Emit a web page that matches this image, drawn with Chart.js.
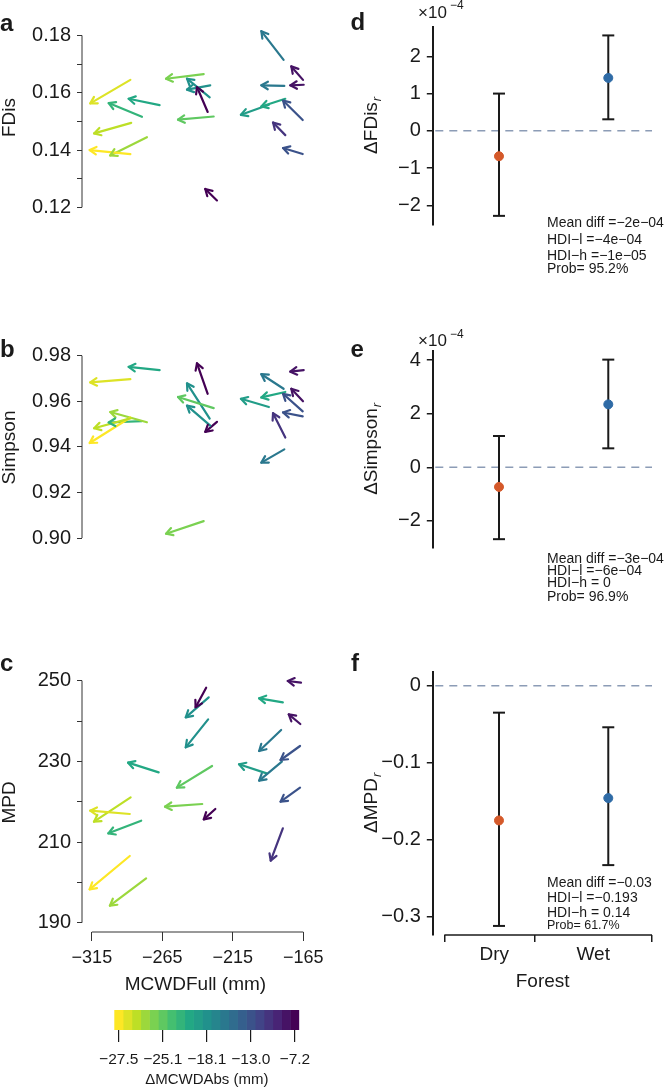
<!DOCTYPE html>
<html><head><meta charset="utf-8">
<script src="https://cdn.jsdelivr.net/npm/chart.js@4.4.1/dist/chart.umd.min.js"></script>
<style>
html,body{margin:0;padding:0;background:#fff}
body{width:666px;height:1090px;position:relative;overflow:hidden;font-family:"Liberation Sans",Arial,Helvetica,sans-serif;color:#1a1a1a}
canvas{position:absolute;display:block}
.txt{position:absolute;white-space:nowrap;line-height:1;color:#1a1a1a}
</style></head><body>
<canvas id="cA" width="330" height="278" style="left:0;top:0"></canvas>
<canvas id="cB" width="330" height="298" style="left:0;top:320px"></canvas>
<canvas id="cC" width="330" height="360" style="left:0;top:640px"></canvas>
<canvas id="cD" width="336" height="290" style="left:330px;top:0"></canvas>
<canvas id="cE" width="336" height="293" style="left:330px;top:320px"></canvas>
<canvas id="cF" width="336" height="360" style="left:330px;top:640px"></canvas>
<canvas id="cBar" width="330" height="90" style="left:0;top:1000px"></canvas>
<script>
// ---------------- data ----------------
// site order: S1..S16, S17a, S17b, S18, S19, S20
const mcwdFullStart = [-288.1,-287.5,-288.1,-276.5,-280.0,-267.6,-236.7,-229.7,-232.5,-232.1,-233.9,-227.4,-180.7,-167.1,-166.6,-180.2,-179.5,-191.0,-167.3,-179.5,-167.3];
const mcwdFullEnd   = [-316.2,-313.5,-316.6,-302.2,-303.3,-289.3,-263.1,-254.7,-248.4,-248.4,-241.4,-235.6,-196.3,-175.3,-176.0,-196.3,-196.3,-210.6,-181.1,-188.1,-181.1];
const dMCWDAbs      = [-27.0,-26.6,-27.5,-26.0,-22.3,-20.9,-25.6,-25.1,-18.1,-18.1,-7.2,-7.2,-16.0,-8.4,-8.4,-16.0,-20.9,-19.5,-13.0,-10.7,-13.0];

const fdisStart = [0.1645,0.1495,0.1386,0.1445,0.1516,0.1557,0.1665,0.1517,0.1584,0.1626,0.1533,0.1224,0.1715,0.1645,0.1628,0.1624,0.1579,0.1558,0.1505,0.1452,0.1386];
const fdisEnd   = [0.1563,0.1458,0.1400,0.1381,0.1564,0.1579,0.1649,0.1506,0.1649,0.1611,0.1620,0.1264,0.1815,0.1692,0.1626,0.1626,0.1552,0.1523,0.1573,0.1496,0.1407];

const simpsonStart = [0.9697,0.9526,0.9529,0.9508,0.9513,0.9737,0.9074,0.9570,0.9524,0.9493,0.9633,0.9510,0.9655,0.9600,0.9737,0.9389,0.9641,0.9575,0.9556,0.9441,0.9534];
const simpsonEnd   = [0.9683,0.9482,0.9417,0.9553,0.9507,0.9751,0.9019,0.9619,0.9679,0.9581,0.9767,0.9466,0.9719,0.9655,0.9730,0.9331,0.9617,0.9611,0.9633,0.9548,0.9551];

const mpdStart = [216.94,221.07,206.53,200.99,215.29,227.27,219.42,228.84,240.41,245.87,248.26,218.18,237.77,239.26,249.50,229.92,244.63,227.02,233.80,213.39,223.47];
const mpdEnd   = [217.77,215.04,198.27,194.22,212.15,229.67,218.76,223.47,233.47,240.91,243.39,215.62,232.56,241.65,249.92,225.21,245.62,229.26,230.33,205.37,220.00];

const mcwdTicks = [-315,-265,-215,-165];
const fdisTicks = [0.12,0.13,0.14,0.15,0.16,0.17,0.18];
const fdisLabeled = [0.12,0.14,0.16,0.18];
const simpsonTicks = [0.90,0.92,0.94,0.96,0.98];
const simpsonLabeled = [0.90,0.92,0.94,0.96,0.98];
const mpdTicks = [190,200,210,220,230,240,250];
const mpdLabeled = [190,210,230,250];

const forests = ['Dry','Wet'];
const forestPos = [1,2];
const forestColors = ['#d4592a','#2f6ba6'];
const forestBracket = [0.5,1.33,2.4];
const forestLabelPos = [0.957,1.862];

const dFDisMean = [-0.68e-4, 1.42e-4];
const dFDisLow  = [-2.28e-4, 0.31e-4];
const dFDisHigh = [ 1.00e-4, 2.56e-4];
const dFDisTicks = [-2e-4,-1e-4,0,1e-4,2e-4];

const dSimpsonMean = [-0.73e-4, 2.35e-4];
const dSimpsonLow  = [-2.68e-4, 0.71e-4];
const dSimpsonHigh = [ 1.17e-4, 4.02e-4];
const dSimpsonTicks = [-2e-4,0,2e-4,4e-4];

const dMPDMean = [-0.175,-0.146];
const dMPDLow  = [-0.312,-0.233];
const dMPDHigh = [-0.035,-0.054];
const dMPDTicks = [-0.3,-0.2,-0.1,0];

const zeroRef = 0;

const statsD = ['Mean diff =\u22122e\u221204','HDI\u2212l =\u22124e\u221204','HDI\u2212h =\u22121e\u221205','Prob= 95.2%'];
const statsE = ['Mean diff =\u22123e\u221204','HDI\u2212l =\u22126e\u221204','HDI\u2212h = 0','Prob= 96.9%'];
const statsF = ['Mean diff =\u22120.03','HDI\u2212l =\u22120.193','HDI\u2212h = 0.14','Prob= 61.7%'];

const colorbarTicks = [-27.5,-25.1,-18.1,-13.0,-7.2];
const colorbarTickBins = [0,5,10,15,20];
const colorbarBins = [0,1,2,3,4,5,6,7,8,9,10,11,12,13,14,15,16,17,18,19,20];

// ---------------- helpers ----------------
const FF = '"Liberation Sans", Arial, Helvetica, sans-serif';
Chart.defaults.font.family = FF;
Chart.defaults.color = '#1a1a1a';
const VIR = ['#440154','#482475','#414487','#355f8d','#2a788e','#21918c','#22a884','#44bf70','#7ad151','#bddf26','#fde725'];
function hx(h){return [parseInt(h.slice(1,3),16),parseInt(h.slice(3,5),16),parseInt(h.slice(5,7),16)];}
function viridis(t){t=Math.min(1,Math.max(0,t));const f=t*10;const i=Math.min(9,Math.floor(f));const u=f-i;const a=hx(VIR[i]),b=hx(VIR[i+1]);
  return 'rgb('+a.map((v,k)=>Math.round(v+(b[k]-v)*u)).join(',')+')';}
function binOf(v){const T=colorbarTicks,B=colorbarTickBins;if(v<=T[0])return B[0];for(let i=0;i<T.length-1;i++){if(v<=T[i+1]){return B[i]+(v-T[i])/(T[i+1]-T[i])*(B[i+1]-B[i]);}}return B[B.length-1];}
function siteColor(v){const b=Math.round(binOf(v));return viridis(1-b/20);}
function fmt(v,d){const s=Math.abs(v).toFixed(d);return (v<-1e-12?'\u2212':'')+s;}
function near(v,arr){return arr.some(a=>Math.abs(a-v)<1e-9);}
function addText(t,x,base,size,extra){const d=document.createElement('div');d.className='txt';d.textContent=t;d.style.left=x+'px';d.style.top=(base-0.8465*size)+'px';d.style.fontSize=size+'px';if(extra)Object.assign(d.style,extra);document.body.appendChild(d);}

const rAxisPlugin={id:'rAxis',afterDraw(chart,args,opts){const ctx=chart.ctx;(opts.lines||[]).forEach(l=>{const s=chart.scales[l.scale];ctx.save();ctx.strokeStyle=l.color||'#333';ctx.lineWidth=l.width||1;ctx.beginPath();
  if(s.isHorizontal()){const y=s.top;ctx.moveTo(s.getPixelForValue(l.from),y);ctx.lineTo(s.getPixelForValue(l.to),y);}
  else{const x=s.right;ctx.moveTo(x,s.getPixelForValue(l.from));ctx.lineTo(x,s.getPixelForValue(l.to));}
  ctx.stroke();ctx.restore();});}};

const arrowHeadPlugin={id:'arrowHeads',afterDatasetsDraw(chart){const ctx=chart.ctx;chart.data.datasets.forEach((ds,i)=>{const m=chart.getDatasetMeta(i);const p0=m.data[0],p1=m.data[1];if(!p0||!p1)return;
  const ang=Math.atan2(p1.y-p0.y,p1.x-p0.x),L=7.5,a=Math.PI/6;ctx.save();ctx.strokeStyle=ds.borderColor;ctx.lineWidth=2.2;ctx.lineCap='round';ctx.lineJoin='round';ctx.beginPath();
  ctx.moveTo(p1.x-L*Math.cos(ang-a),p1.y-L*Math.sin(ang-a));ctx.lineTo(p1.x,p1.y);ctx.lineTo(p1.x-L*Math.cos(ang+a),p1.y-L*Math.sin(ang+a));ctx.stroke();ctx.restore();});}};

const zeroLinePlugin={id:'zeroLine',beforeDatasetsDraw(chart,args,o){const y=chart.scales.y.getPixelForValue(o.value);const a=chart.chartArea;const ctx=chart.ctx;ctx.save();ctx.strokeStyle=o.color;ctx.lineWidth=o.width;ctx.setLineDash(o.dash);ctx.beginPath();ctx.moveTo(a.left+2,y);ctx.lineTo(a.right,y);ctx.stroke();ctx.restore();}};

const subTitlePlugin={id:'subTitle',afterDraw(chart,args,o){const ctx=chart.ctx;const a=chart.chartArea;ctx.save();ctx.translate(o.x,(a.top+a.bottom)/2);ctx.rotate(-Math.PI/2);
  ctx.font='19px '+FF;const w1=ctx.measureText(o.main).width;ctx.font='italic 13px '+FF;const w2=ctx.measureText(o.sub).width;const st=-(w1+w2)/2;
  ctx.fillStyle='#1a1a1a';ctx.textBaseline='alphabetic';ctx.textAlign='left';ctx.font='19px '+FF;ctx.fillText(o.main,st,0);ctx.font='italic 13px '+FF;ctx.fillText(o.sub,st+w1+1,4);ctx.restore();}};

// ---------------- left panels ----------------
function leftChart(id,yStart,yEnd,yTicks,yLabeled,yMin,yMax,dec,title,padTop,withX){
  const ds=mcwdFullStart.map((x0,i)=>({data:[{x:x0,y:yStart[i]},{x:mcwdFullEnd[i],y:yEnd[i]}],showLine:true,borderColor:siteColor(dMCWDAbs[i]),borderWidth:2.2,borderCapStyle:'round',pointRadius:0,pointHoverRadius:0,clip:false}));
  const lines=[{scale:'y',from:yTicks[0],to:yTicks[yTicks.length-1],color:'#333',width:1}];
  if(withX)lines.push({scale:'x',from:mcwdTicks[0],to:mcwdTicks[mcwdTicks.length-1],color:'#333',width:1});
  return new Chart(document.getElementById(id),{type:'scatter',data:{datasets:ds},
    options:{responsive:false,animation:false,devicePixelRatio:1,events:[],
      layout:{padding:{top:padTop,left:0,right:18.3,bottom:0}},
      plugins:{legend:{display:false},tooltip:{enabled:false},rAxis:{lines}},
      scales:{
        x:{type:'linear',min:-322,max:-161,display:withX,
          afterBuildTicks:s=>{s.ticks=mcwdTicks.map(v=>({value:v}));},
          afterFit:s=>{s.height=68;},
          ticks:{callback:v=>fmt(v,0),font:{size:18},padding:6,maxRotation:0,autoSkip:false,color:'#1a1a1a'},
          grid:{drawOnChartArea:false,drawTicks:true,tickLength:9,tickColor:'#333',lineWidth:1},
          border:{display:false},
          title:{display:true,text:'MCWDFull (mm)',font:{size:19},color:'#1a1a1a',padding:{top:0,bottom:4}}},
        y:{type:'linear',min:yMin,max:yMax,
          afterFit:s=>{s.width=82;},
          afterBuildTicks:s=>{s.ticks=yTicks.map(v=>({value:v}));},
          ticks:{callback:v=>near(v,yLabeled)?fmt(v,dec):'',font:{size:20},padding:6,autoSkip:false,color:'#1a1a1a'},
          grid:{drawOnChartArea:false,drawTicks:true,tickLength:5,tickColor:'#333',lineWidth:1},
          border:{display:false},
          title:{display:true,text:title,font:{size:19,lineHeight:1},color:'#1a1a1a',padding:0}}
      }},
    plugins:[rAxisPlugin,arrowHeadPlugin]});
}
leftChart('cA',fdisStart,fdisEnd,fdisTicks,fdisLabeled,0.11906,0.18366,2,'FDis',25,false);
leftChart('cB',simpsonStart,simpsonEnd,simpsonTicks,simpsonLabeled,0.89474,0.98472,2,'Simpson',25,false);
leftChart('cC',mpdStart,mpdEnd,mpdTicks,mpdLabeled,187.69,251.90,0,'MPD',33,true);

// ---------------- right panels ----------------
function rightChart(id,mean,low,high,yTicks,tickFmt,yMin,yMax,padTop,main,withX){
  const datasets=[{data:forestPos.map((x,i)=>({x,y:mean[i]})),pointRadius:4.5,pointHoverRadius:4.5,pointBackgroundColor:forestColors,pointBorderColor:forestColors,pointBorderWidth:1,showLine:false,clip:false}];
  forestPos.forEach((x,i)=>datasets.push({data:[{x,y:low[i]},{x,y:high[i]}],showLine:true,borderColor:'#1a1a1a',borderWidth:2,pointStyle:'line',pointRadius:6,pointHoverRadius:6,pointBorderColor:'#1a1a1a',pointBorderWidth:2,clip:false}));
  const lines=withX?[{scale:'x',from:forestBracket[0],to:forestBracket[forestBracket.length-1],color:'#1a1a1a',width:1.5}]:[];
  return new Chart(document.getElementById(id),{type:'scatter',data:{datasets},
    options:{responsive:false,animation:false,devicePixelRatio:1,events:[],
      layout:{padding:{top:padTop,left:0,right:14,bottom:0}},
      plugins:{legend:{display:false},tooltip:{enabled:false},rAxis:{lines},zeroLine:{value:zeroRef,color:'#8c9cb6',dash:[8,6],width:1.5},subTitle:{main,sub:'r',x:47}},
      scales:{
        x:{type:'linear',min:0.399,max:2.40,display:withX,
          afterBuildTicks:s=>{s.ticks=[...forestBracket,...forestLabelPos].sort((a,b)=>a-b).map(v=>({value:v}));},
          afterFit:s=>{s.height=65;},
          ticks:{callback:v=>{const k=forestLabelPos.findIndex(p=>Math.abs(p-v)<1e-9);return k>=0?forests[k]:'';},font:{size:19},padding:1,maxRotation:0,autoSkip:false,color:'#1a1a1a'},
          grid:{drawOnChartArea:false,drawTicks:true,tickLength:7,lineWidth:1.5,tickColor:c=>near(c.tick.value,forestBracket)?'#1a1a1a':'rgba(0,0,0,0)'},
          border:{display:false},
          title:{display:true,text:'Forest',font:{size:19},color:'#1a1a1a',padding:{top:0,bottom:7}}},
        y:{type:'linear',min:yMin,max:yMax,
          afterFit:s=>{s.width=103.3;},
          afterBuildTicks:s=>{s.ticks=yTicks.map(v=>({value:v}));},
          ticks:{callback:tickFmt,font:{size:20},padding:6,autoSkip:false,color:'#1a1a1a'},
          grid:{drawOnChartArea:false,drawTicks:true,tickLength:6.5,tickColor:'#1a1a1a',lineWidth:1.5},
          border:{display:true,color:'#1a1a1a',width:2},
          title:{display:false}}
      }},
    plugins:[rAxisPlugin,zeroLinePlugin,subTitlePlugin]});
}
const e4=v=>fmt(Math.round(v/1e-4),0);
rightChart('cD',dFDisMean,dFDisLow,dFDisHigh,dFDisTicks,e4,-2.525e-4,2.794e-4,26.7,'\u0394FDis',false);
rightChart('cE',dSimpsonMean,dSimpsonLow,dSimpsonHigh,dSimpsonTicks,e4,-3.009e-4,4.353e-4,30.7,'\u0394Simpson',false);
rightChart('cF',dMPDMean,dMPDLow,dMPDHigh,dMPDTicks,v=>Math.abs(v)<1e-12?'0':fmt(v,1),-0.32377,0.01818,31.7,'\u0394MPD',true);

// ---------------- colour bar ----------------
new Chart(document.getElementById('cBar'),{type:'bar',
  data:{labels:[''],datasets:colorbarBins.map(b=>({data:[1],backgroundColor:viridis(1-b/20),borderWidth:0,barPercentage:1,categoryPercentage:1}))},
  options:{indexAxis:'y',responsive:false,animation:false,devicePixelRatio:1,events:[],
    layout:{padding:{top:10,left:114.3,right:30.7,bottom:0}},
    plugins:{legend:{display:false},tooltip:{enabled:false}},
    scales:{
      x:{type:'linear',stacked:true,min:0,max:21,
        afterBuildTicks:s=>{s.ticks=colorbarTickBins.map(b=>({value:b+0.5}));},
        afterFit:s=>{s.height=60;},
        ticks:{callback:(v,i)=>fmt(colorbarTicks[i],1),font:{size:15.5},padding:8,maxRotation:0,autoSkip:false,color:'#1a1a1a'},
        grid:{drawOnChartArea:false,drawTicks:true,tickLength:12,tickColor:'#1a1a1a',lineWidth:1.2},
        border:{display:false},
        title:{display:true,text:'\u0394MCWDAbs (mm)',font:{size:15},color:'#1a1a1a',padding:{top:0,bottom:1}}},
      y:{stacked:true,display:false}
    }}});

// ---------------- text ----------------
addText('a',0,31,24,{fontWeight:'bold'});
addText('b',0,357,24,{fontWeight:'bold'});
addText('c',0,671.7,24,{fontWeight:'bold'});
addText('d',350.5,30.7,24,{fontWeight:'bold'});
addText('e',350.5,357,24,{fontWeight:'bold'});
addText('f',351,671.7,24,{fontWeight:'bold'});
addText('\u00d710',418,18.3,17);
addText('\u22124',450,9.5,12);
addText('\u00d710',418,346.7,17);
addText('\u22124',450,338,12);
const bD=[227.3,244.3,259.5,272.7], bE=[562.7,575,587.3,600.7], bF=[886.7,901.7,917.3,930];
statsD.forEach((t,i)=>addText(t,547,bD[i],14));
statsE.forEach((t,i)=>addText(t,547,bE[i],14));
statsF.forEach((t,i)=>addText(t,547,bF[i],i===3?12.5:14));
</script></body></html>
